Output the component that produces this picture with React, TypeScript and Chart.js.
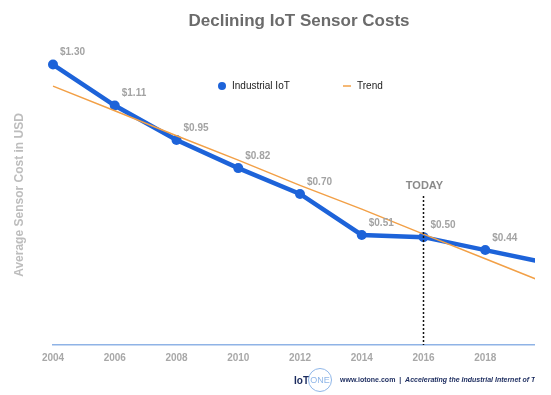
import React, { useEffect, useRef } from 'react';
import { Chart, registerables } from 'chart.js';

Chart.register(...registerables);

const years = ['2004', '2006', '2008', '2010', '2012', '2014', '2016', '2018', '2020'];
const iotCost = [1.30, 1.11, 0.95, 0.82, 0.70, 0.51, 0.50, 0.44, 0.38];
const trendCost = [1.20, 1.086, 0.97, 0.857, 0.74, 0.63, 0.514, 0.40, 0.285];
const todayYear = '2016';
const todayLabel = 'TODAY';
const chartTitle = 'Declining IoT Sensor Costs';
const yTitle = 'Average Sensor Cost in USD';
const seriesNames = ['Industrial IoT', 'Trend'];
const footerUrl = 'www.iotone.com  |  ';
const footerSlogan = 'Accelerating the Industrial Internet of Things';

const FONT = '"Liberation Sans", Arial, Helvetica, sans-serif';
const BLUE = '#1d63d9';
const ORANGE = '#f2a047';

const decorPlugin = {
  id: 'decor',
  afterDatasetsDraw(chart: any) {
    const { ctx, chartArea, scales } = chart;
    const xs = scales.x;
    ctx.save();

    // TODAY marker
    const ti = years.indexOf(todayYear);
    const tx = xs.getPixelForValue(ti);
    ctx.strokeStyle = '#111';
    ctx.lineWidth = 1.5;
    ctx.setLineDash([2, 2]);
    ctx.beginPath();
    ctx.moveTo(tx, chartArea.top + 153);
    ctx.lineTo(tx, chartArea.bottom);
    ctx.stroke();
    ctx.setLineDash([]);
    ctx.fillStyle = '#8a8a8a';
    ctx.font = `bold 11px ${FONT}`;
    ctx.textAlign = 'center';
    ctx.textBaseline = 'middle';
    ctx.fillText(todayLabel, tx + 1, chartArea.top + 143);

    // value labels for the Industrial IoT series
    const meta = chart.getDatasetMeta(1);
    ctx.font = `bold 10px ${FONT}`;
    ctx.fillStyle = '#a3a3a3';
    ctx.textAlign = 'left';
    meta.data.forEach((pt: any, i: number) => {
      ctx.fillText('$' + iotCost[i].toFixed(2), pt.x + 7, pt.y - 12);
    });
    ctx.restore();
  },
  afterDraw(chart: any) {
    const { ctx } = chart;
    ctx.save();
    // title
    ctx.fillStyle = '#6b6b6b';
    ctx.font = `bold 17px ${FONT}`;
    ctx.textAlign = 'center';
    ctx.textBaseline = 'middle';
    ctx.fillText(chartTitle, 291, 13);

    // y axis title
    ctx.save();
    ctx.translate(12, 187);
    ctx.rotate(-Math.PI / 2);
    ctx.fillStyle = '#bdbdbd';
    ctx.font = `bold 12px ${FONT}`;
    ctx.fillText(yTitle, 0, 0);
    ctx.restore();

    // legend
    ctx.textAlign = 'left';
    ctx.font = `10px ${FONT}`;
    ctx.fillStyle = BLUE;
    ctx.beginPath();
    ctx.arc(214, 78, 4, 0, Math.PI * 2);
    ctx.fill();
    ctx.fillStyle = '#222';
    ctx.fillText(seriesNames[0], 224, 78);
    ctx.strokeStyle = ORANGE;
    ctx.lineWidth = 1.5;
    ctx.beginPath();
    ctx.moveTo(335, 78);
    ctx.lineTo(343, 78);
    ctx.stroke();
    ctx.fillText(seriesNames[1], 349, 78);

    // footer
    const fy = 372;
    ctx.fillStyle = '#1b2b5e';
    ctx.font = `bold 10px ${FONT}`;
    ctx.fillText('IoT', 286, fy + 1);
    ctx.strokeStyle = '#8fb6e8';
    ctx.lineWidth = 1;
    ctx.beginPath();
    ctx.arc(312, fy, 11.5, 0, Math.PI * 2);
    ctx.stroke();
    ctx.fillStyle = '#8fb6e8';
    ctx.font = `9px ${FONT}`;
    ctx.textAlign = 'center';
    ctx.fillText('ONE', 312, fy + 1);
    ctx.textAlign = 'left';
    ctx.fillStyle = '#1b2b5e';
    ctx.font = `bold 7px ${FONT}`;
    ctx.fillText(footerUrl, 332, fy);
    const w = ctx.measureText(footerUrl).width;
    ctx.font = `italic bold 7px ${FONT}`;
    ctx.fillText(footerSlogan, 332 + w, fy);
    ctx.restore();
  },
};

export default function App() {
  const ref = useRef<HTMLCanvasElement | null>(null);
  useEffect(() => {
    if (!ref.current) return;
    Chart.defaults.font.family = FONT;
    const chart = new Chart(ref.current, {
      type: 'line',
      data: {
        labels: years,
        datasets: [
          {
            label: seriesNames[1],
            data: trendCost,
            borderColor: ORANGE,
            borderWidth: 1.5,
            pointRadius: 0,
            tension: 0,
          },
          {
            label: seriesNames[0],
            data: iotCost,
            borderColor: BLUE,
            backgroundColor: BLUE,
            borderWidth: 4.5,
            pointRadius: 5,
            pointBorderWidth: 0,
            tension: 0,
          },
        ],
      },
      options: {
        responsive: false,
        animation: false,
        layout: { padding: { left: 45, right: 81, top: 35, bottom: 24 } },
        plugins: {
          legend: { display: false },
          tooltip: { enabled: false },
          title: { display: false },
        },
        scales: {
          x: {
            offset: false,
            grid: { display: false, drawTicks: false },
            border: { display: true, color: '#8fb3e6', width: 1.5 },
            ticks: {
              color: '#a8a8a8',
              font: { size: 10, weight: 'bold' },
              padding: 7,
              maxRotation: 0,
              autoSkip: false,
            },
          },
          y: {
            display: false,
            min: 0,
            max: 1.4,
          },
        },
      },
      plugins: [decorPlugin],
    });
    return () => chart.destroy();
  }, []);
  return (
    <div style={{ width: 527, height: 387, overflow: 'hidden', position: 'relative' }}>
      <canvas ref={ref} width={620} height={387} style={{ display: 'block' }} />
    </div>
  );
}
